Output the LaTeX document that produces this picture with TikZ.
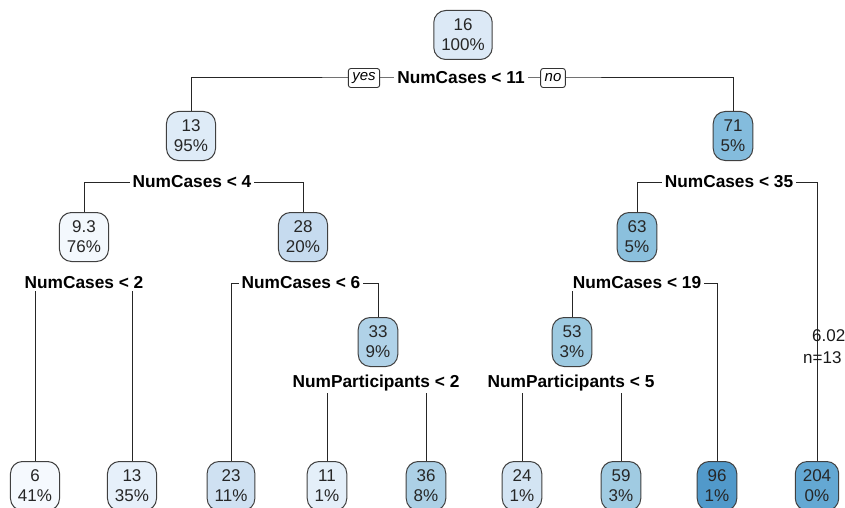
\documentclass[tikz,border=0pt]{standalone}
\usepackage{fontspec}
\setmainfont{Liberation Sans}
\usetikzlibrary{backgrounds}
\definecolor{c16}{HTML}{DCE9F6}
\definecolor{c13}{HTML}{DEEBF7}
\definecolor{c71}{HTML}{84BCDD}
\definecolor{c93}{HTML}{F3F8FD}
\definecolor{c28}{HTML}{C6DBEF}
\definecolor{c63}{HTML}{8BC0DD}
\definecolor{c33}{HTML}{B0D2E8}
\definecolor{c53}{HTML}{9DCAE1}
\definecolor{l6c}{HTML}{F5F9FE}
\definecolor{l13c}{HTML}{E6F0FA}
\definecolor{l23c}{HTML}{CFE1F2}
\definecolor{l11c}{HTML}{E4EFF9}
\definecolor{l36c}{HTML}{ACD0E6}
\definecolor{l24c}{HTML}{D3E4F3}
\definecolor{l59c}{HTML}{A0CBE2}
\definecolor{l96c}{HTML}{5199CA}
\definecolor{l204c}{HTML}{64A8D3}
\tikzset{
  treebox/.style={draw=black!75, line width=1pt, rounded corners=12pt,
    align=center, inner xsep=7.5pt, inner ysep=3pt, minimum height=49pt,
    font=\fontsize{17}{20}\selectfont, text=black!85},
  splitlab/.style={fill=white, inner xsep=3pt, inner ysep=2pt,
    font=\fontsize{17.3}{20}\selectfont\bfseries},
  yesno/.style={draw=black!80, fill=white, rounded corners=2.5pt, line width=0.9pt,
    inner xsep=4pt, inner ysep=1.5pt, minimum height=19pt,
    font=\fontsize{15}{16}\selectfont\itshape},
  edge/.style={draw=black!85, line width=1pt},
  plain/.style={font=\fontsize{17}{20}\selectfont, text=black!90, inner sep=0pt}
}
\begin{document}
\begin{tikzpicture}[x=1pt,y=-1pt]
\useasboundingbox (0,0) rectangle (845,508);
\clip (0,0) rectangle (845,508);
% inner nodes
\node[treebox, fill=c16] (root) at (463,35) {16\\100\%};
\node[treebox, fill=c13] (n13) at (191,136) {13\\95\%};
\node[treebox, fill=c71] (n71) at (733,136) {71\\5\%};
\node[treebox, fill=c93] (n93) at (84,237) {9.3\\76\%};
\node[treebox, fill=c28] (n28) at (303,237) {28\\20\%};
\node[treebox, fill=c63] (n63) at (637,237) {63\\5\%};
\node[treebox, fill=c33] (n33) at (378,342) {33\\9\%};
\node[treebox, fill=c53] (n53) at (572,342) {53\\3\%};
% leaves
\node[treebox, fill=l6c] (l6) at (35,486) {6\\41\%};
\node[treebox, fill=l13c] (l13) at (132,486) {13\\35\%};
\node[treebox, fill=l23c] (l23) at (231,486) {23\\11\%};
\node[treebox, fill=l11c] (l11) at (327,486) {11\\1\%};
\node[treebox, fill=l36c] (l36) at (426,486) {36\\8\%};
\node[treebox, fill=l24c] (l24) at (522,486) {24\\1\%};
\node[treebox, fill=l59c] (l59) at (621,486) {59\\3\%};
\node[treebox, fill=l96c] (l96) at (717,486) {96\\1\%};
\node[treebox, fill=l204c] (l204) at (817,486) {204\\0\%};
% split labels
\node[splitlab] (s1) at (461,78) {NumCases < 11};
\node[yesno] (yes) at (364,78) {yes};
\node[yesno] (no) at (553,78) {no};
\node[splitlab] (s2) at (192,182) {NumCases < 4};
\node[splitlab] (s3) at (729,182) {NumCases < 35};
\node[splitlab] (s4) at (84,283) {NumCases < 2};
\node[splitlab] (s5) at (301,283) {NumCases < 6};
\node[splitlab] (s6) at (637,283) {NumCases < 19};
\node[splitlab] (s7) at (376,383) {NumParticipants < 2};
\node[splitlab] (s8) at (571,383) {NumParticipants < 5};
% connectors
\begin{pgfonlayer}{background}
\draw[edge] (n13.north) |- (s1.center) -| (n71.north);
\draw[edge] (n93.north) |- (s2.center) -| (n28.north);
\draw[edge] (n63.north) |- (s3.center) -| (l204.north);
\draw[edge] (l6.north) |- (s4.center) -| (l13.north);
\draw[edge] (l23.north) |- (s5.center) -| (n33.north);
\draw[edge] (n53.north) |- (s6.center) -| (l96.north);
\draw[edge] (l11.north) |- (s7.center) -| (l36.north);
\draw[edge] (l24.north) |- (s8.center) -| (l59.north);
\end{pgfonlayer}
% stray text
\node[plain, anchor=west] (t1) at (812,336) {6.02};
\node[plain, anchor=west] (t2) at (803,358) {n=13};
\end{tikzpicture}
\end{document}
